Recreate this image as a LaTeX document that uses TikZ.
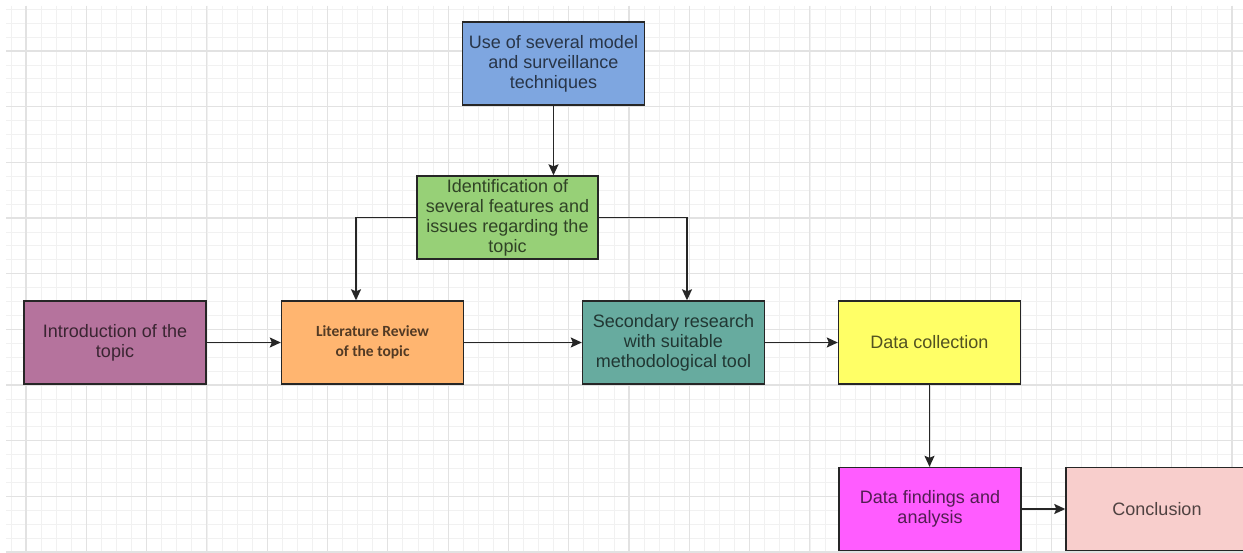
\documentclass[tikz,border=0pt]{standalone}
\usepackage{fontspec}
\setmainfont{Liberation Sans}
\newfontfamily\calib{Carlito}
\usetikzlibrary{arrows.meta}
\definecolor{cblue}{HTML}{7EA6E0}
\definecolor{cgreen}{HTML}{97D077}
\definecolor{cpurple}{HTML}{B5739D}
\definecolor{corange}{HTML}{FFB570}
\definecolor{cteal}{HTML}{67AB9F}
\definecolor{cyellow}{HTML}{FFFF66}
\definecolor{cmagenta}{HTML}{FF5CFF}
\definecolor{cpink}{HTML}{F8CECC}
\definecolor{gridminor}{HTML}{F1F1F1}
\definecolor{gridmajor}{HTML}{E2E2E2}
\tikzset{
  box/.style={draw=black!85, line width=1.4pt, minimum width=182pt, minimum height=83pt,
    align=center, inner sep=2pt, fill=#1, text=#1!32!black,
    font=\fontsize{18}{20}\selectfont},
  arr/.style={draw=black!85, line width=1.5pt, -{Stealth[length=11pt,width=10pt,inset=2pt]}},
  minorline/.style={draw=gridminor, line width=0.8pt},
  majorline/.style={draw=gridmajor, line width=1.1pt}
}
\begin{document}
\begin{tikzpicture}[x=1pt,y=-1pt]
\useasboundingbox (0,0) rectangle (1243,553);
\clip (0,0) rectangle (1243,553);
\fill[white] (0,0) rectangle (1243,553);
% grid
\foreach \i in {-1,...,80} {
  \pgfmathsetmacro\xx{26+15.075*\i}
  \draw[minorline] (\xx,6) -- (\xx,553);
}
\foreach \i in {-3,...,36} {
  \pgfmathsetmacro\yy{51+13.917*\i}
  \draw[minorline] (6,\yy) -- (1243,\yy);
}
\foreach \i in {0,...,20} {
  \pgfmathsetmacro\xx{26+60.3*\i}
  \draw[majorline] (\xx,6) -- (\xx,553);
}
\foreach \i in {0,...,9} {
  \pgfmathsetmacro\yy{51+55.67*\i}
  \draw[majorline] (6,\yy) -- (1243,\yy);
}
% boxes
\node[box=cblue] (use) at (553.5,63.5) {Use of several model\\and surveillance\\techniques};
\node[box=cgreen, minimum width=181pt] (ident) at (507.5,217.5) {Identification of\\several features and\\issues regarding the\\topic};
\node[box=cpurple] (intro) at (115,342.5) {Introduction of the\\topic};
\node[box=corange, font=\calib\bfseries\fontsize{15.5}{20}\selectfont] (lit) at (372.5,342.5) {Literature Review\\of the topic};
\node[box=cteal] (sec) at (673.5,342.5) {Secondary research\\with suitable\\methodological tool};
\node[box=cyellow] (data) at (929.5,342.5) {Data collection};
\node[box=cmagenta] (find) at (930,509) {Data findings and\\analysis};
\node[box=cpink] (conc) at (1157,509) {Conclusion};
% connectors
\draw[arr] (use.south) -- (use.south |- ident.north);
\draw[arr] (ident.west) -| ([xshift=-16.5pt]lit.north);
\draw[arr] (ident.east) -| ([xshift=13.5pt]sec.north);
\draw[arr] (intro.east) -- (lit.west);
\draw[arr] (lit.east) -- (sec.west);
\draw[arr] (sec.east) -- (data.west);
\draw[arr] (data.south) -- (data.south |- find.north);
\draw[arr] (find.east) -- (find.east -| conc.west);
\end{tikzpicture}
\end{document}
